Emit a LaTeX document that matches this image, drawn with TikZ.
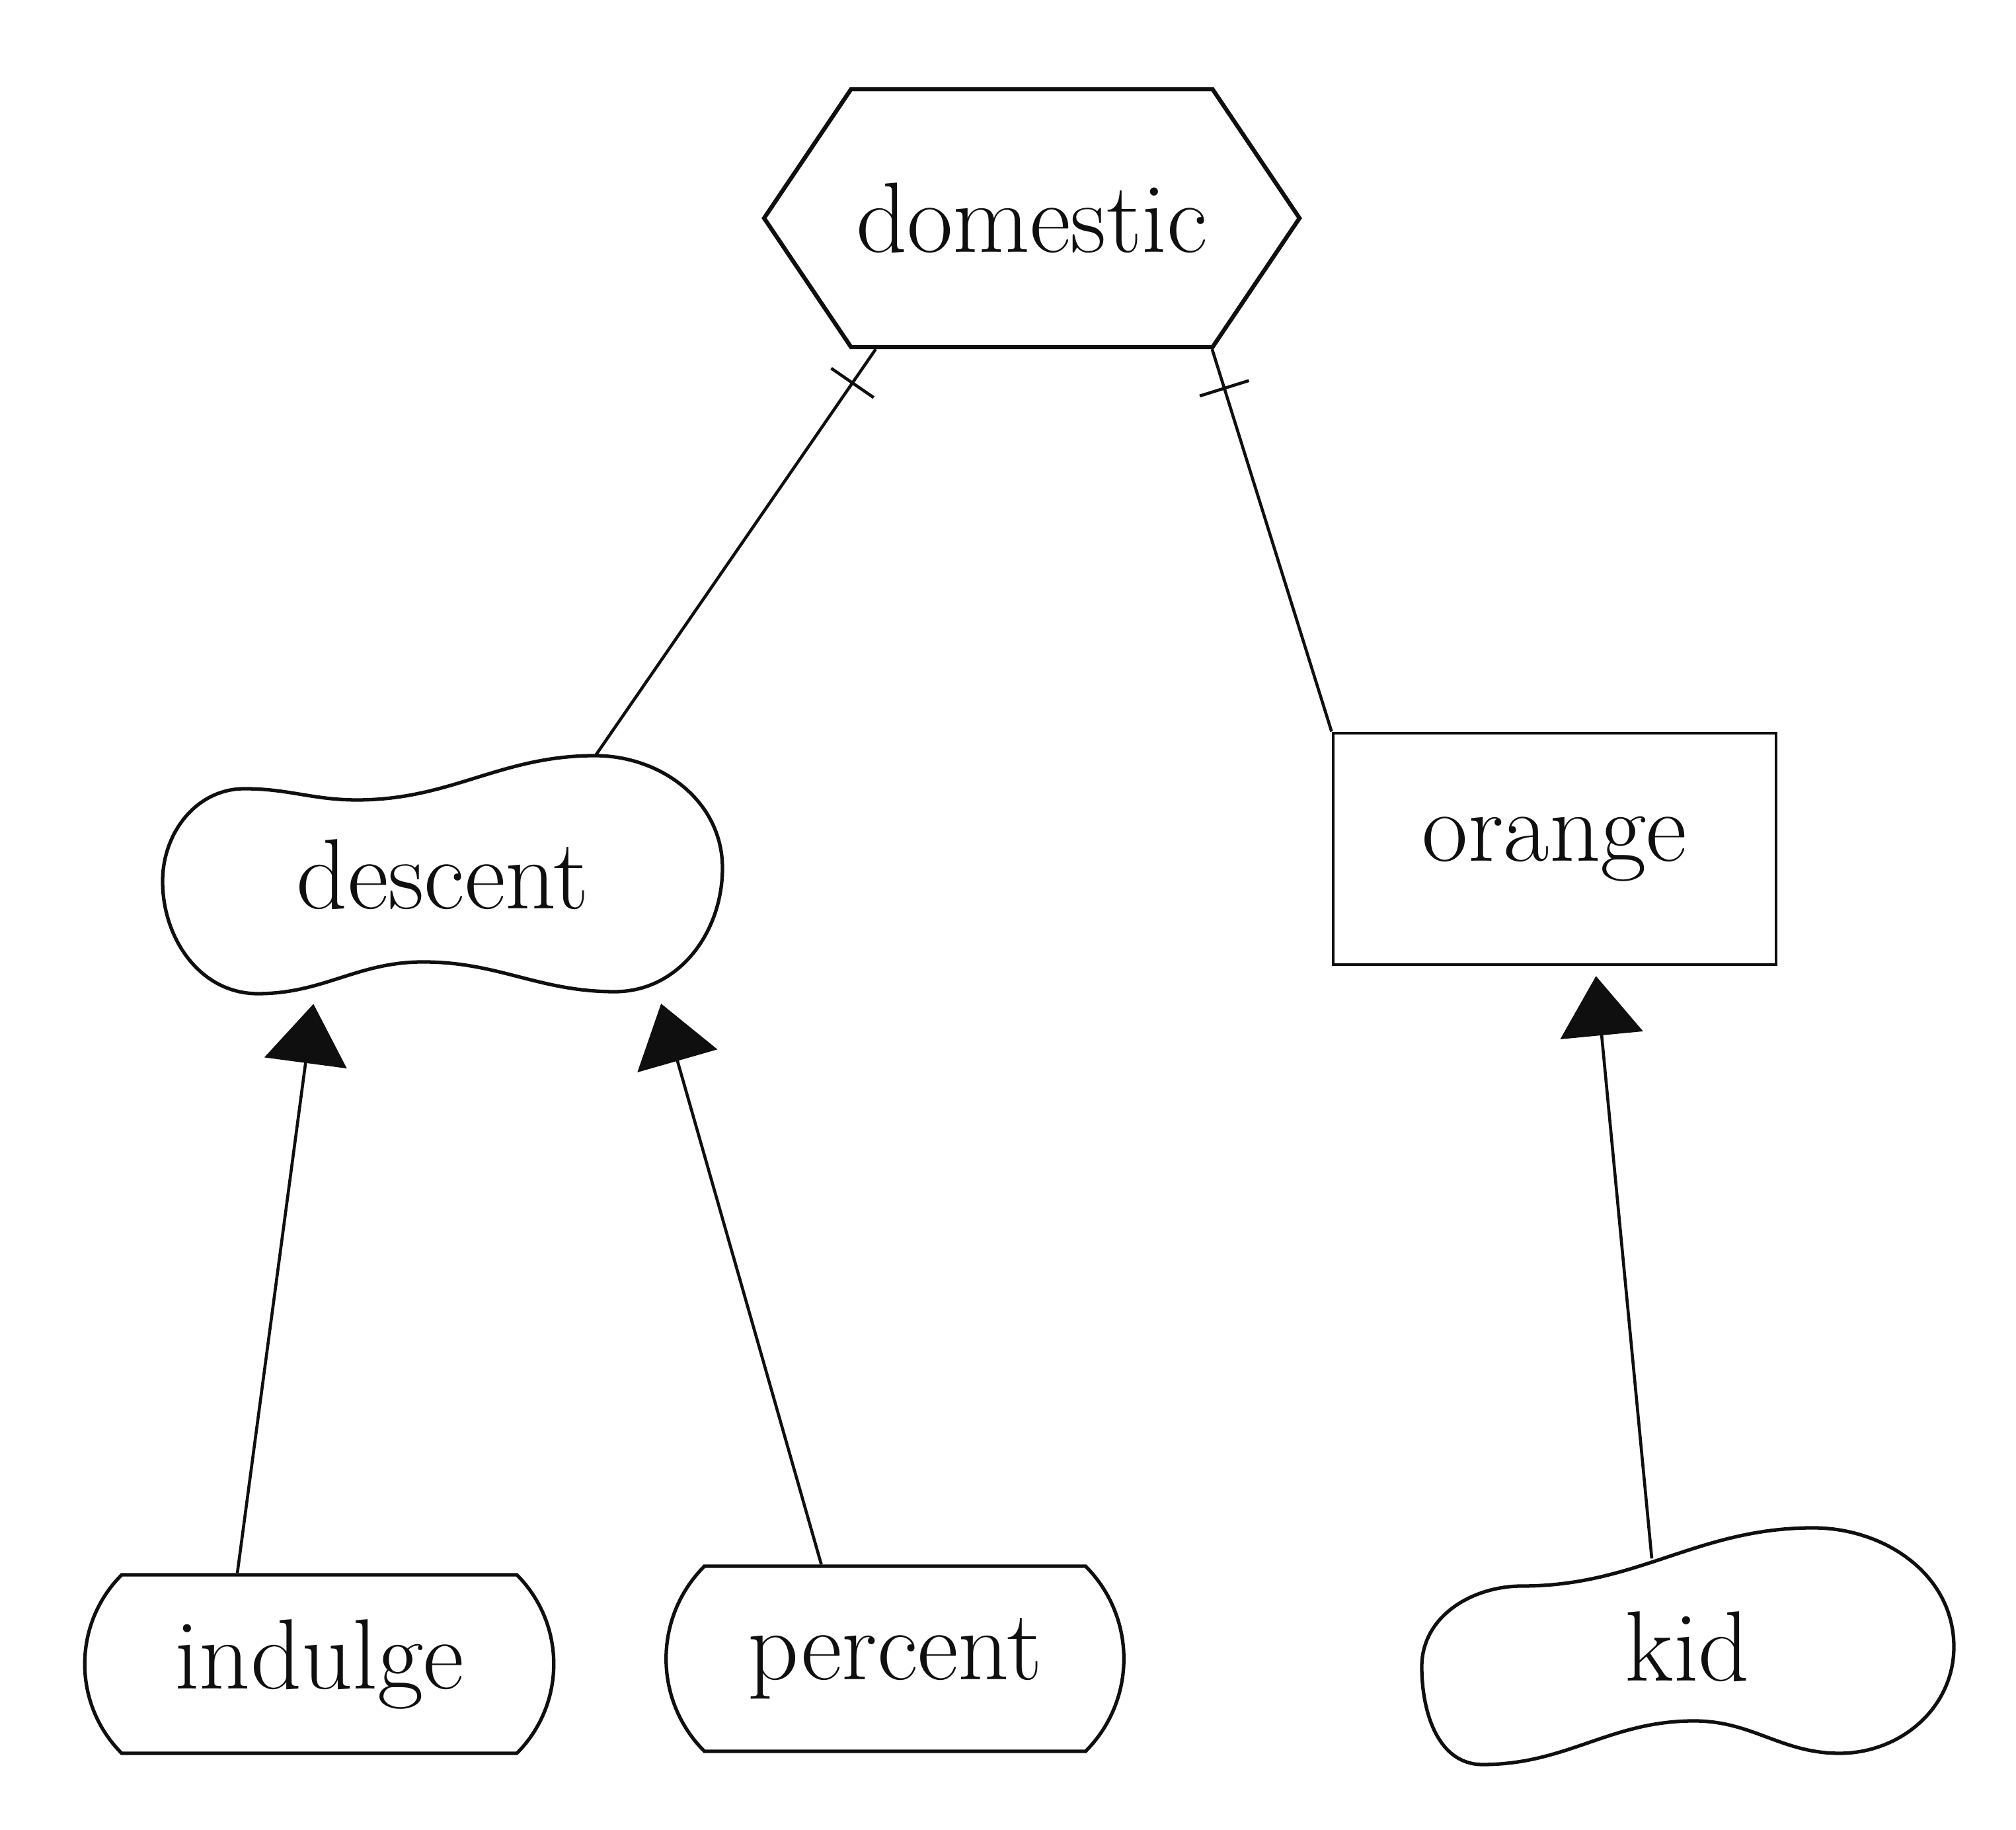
\documentclass[tikz,border=0pt]{standalone}
\usepackage{tikz}
\usetikzlibrary{arrows.meta,calc,positioning,shapes.misc,shapes.symbols,decorations.markings}
\definecolor{InkBlack}{RGB}{15,15,15}

\begin{document}
\begin{tikzpicture}[x=1cm,y=1cm,>=Latex,
    every node/.style={font=\fontsize{43}{47}\selectfont,text=InkBlack},
    hexbox/.style={draw=InkBlack,line width=1.8pt,shape=signal,signal to=west and east,
      signal pointer angle=112,inner xsep=0pt,minimum width=8.1cm,minimum height=3.9cm},
    blobbox/.style={rectangle,draw=none,inner sep=0pt},
    blobline/.style={draw=InkBlack,line width=1.5pt},
    roundbox/.style={draw=InkBlack,line width=1.5pt,rounded rectangle,
      rounded rectangle arc length=90,minimum height=2.7cm},
    rectbox/.style={draw=InkBlack,line width=1.4pt,rectangle,minimum width=6.7cm,minimum height=3.5cm},
    isa/.style={draw=InkBlack,line width=1.3pt,-{Triangle[length=0.9cm,width=1.25cm]},shorten >=0.15cm},
    barline/.style={draw=InkBlack,line width=1.3pt,postaction={decorate,decoration={markings,
      mark=at position 0.62cm with {\draw[line width=1.3pt] (0,-0.39)--(0,0.39);}}}}]
      \useasboundingbox (0,0) rectangle (30.5,27.68);
      \node[hexbox] (domestic) at (15.61,24.38) {domestic};
      \node[blobbox,minimum width=8.5cm,minimum height=3.6cm] (descent) at (6.70,14.45) {descent};
      \node[rectbox] (orange) at (23.52,14.84) {orange};
      \node[roundbox,minimum width=7.33cm] (indulge) at (4.83,2.51) {indulge};
      \node[roundbox,minimum width=7.16cm,minimum height=2.8cm] (percent) at (13.54,2.59) {percent};
      \node[blobbox,minimum width=8.1cm,minimum height=2.66cm] (kid) at (25.53,2.77) {kid};
      \draw[blobline,shift={(descent.center)}] (-4.24,-0.10)
        to[out=90,in=180] (-3.00,1.30) to[out=0,in=180] (-1.30,1.13)
        to[out=0,in=180] (2.30,1.80) to[out=0,in=90] (4.23,0.10)
        to[out=-90,in=0] (2.60,-1.77) to[out=180,in=0] (-0.30,-1.32)
        to[out=180,in=0] (-2.80,-1.80) to[out=180,in=-90] cycle;
      \draw[blobline,shift={(kid.center)}] (-4.02,-0.30)
        to[out=90,in=180] (-2.50,0.92) to[out=0,in=180] (1.90,1.80)
        to[out=0,in=90] (4.03,0.00) to[out=-90,in=0] (2.30,-1.61)
        to[out=180,in=0] (0.10,-1.12) to[out=180,in=0] (-3.10,-1.78)
        to[out=180,in=-90] cycle;
      \draw[barline] (domestic.220) -- (descent.38);
      \draw[barline] (domestic.324) -- (orange.north west);
      \draw[isa] (indulge.132) -- (descent.223);
      \draw[isa] (percent.128) -- (descent.331);
      \draw[isa] (kid.112) -- (orange.289);
    \end{tikzpicture}
\end{document}
